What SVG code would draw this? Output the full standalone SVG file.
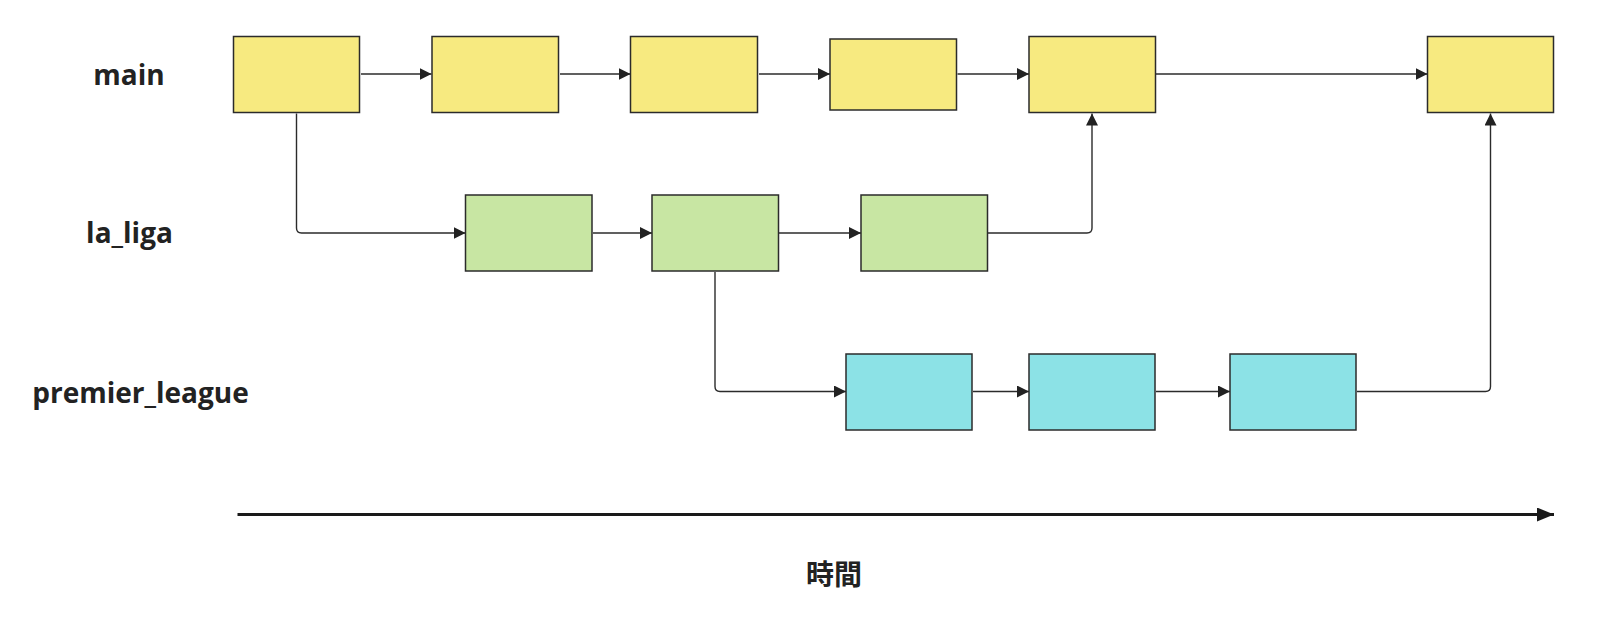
<svg xmlns="http://www.w3.org/2000/svg" width="1612" height="640" viewBox="0 0 1612 640">
<style>
.box{stroke:#2b2b2b;stroke-width:1.5}
.main{fill:#F7EA80}
.liga{fill:#C8E6A3}
.prem{fill:#8CE2E6}
.conn{fill:none;stroke:#2b2b2b;stroke-width:1.4}
.lbl{font-family:"Open Sans","Noto Sans","Liberation Sans",sans-serif;font-weight:700;font-size:28px;fill:#222;text-anchor:middle}
.time{font-family:"Noto Sans CJK JP","Noto Sans CJK SC",sans-serif;font-weight:700;font-size:28px;fill:#222;text-anchor:middle}
</style>
<defs>
<marker id="ah" markerUnits="userSpaceOnUse" markerWidth="12" markerHeight="12" refX="12" refY="6" orient="auto">
<path d="M0,0 L12,6 L0,12 z" fill="#222"/>
</marker>
<marker id="ahbig" markerUnits="userSpaceOnUse" markerWidth="18" markerHeight="14" refX="17" refY="7" orient="auto">
<path d="M0,0 L17,7 L0,14 z" fill="#1a1a1a"/>
</marker>
</defs>
<rect width="1612" height="640" fill="#ffffff"/>

<g id="labels">
<text id="label-main" class="lbl" x="129" y="84.5">main</text>
<text id="label-la_liga" class="lbl" x="129.5" y="243">la_liga</text>
<text id="label-premier_league" class="lbl" x="140.5" y="402.5">premier_league</text>
</g>

<g id="connectors">
<path class="conn" d="M361,74 H431.5" marker-end="url(#ah)"/>
<path class="conn" d="M560,74 H630.5" marker-end="url(#ah)"/>
<path class="conn" d="M759,74 H830" marker-end="url(#ah)"/>
<path class="conn" d="M957.5,74 H1029" marker-end="url(#ah)"/>
<path class="conn" d="M1156,74 H1427.5" marker-end="url(#ah)"/>
<path class="conn" d="M296.5,113.5 V228 Q296.5,233 301.5,233 H465.5" marker-end="url(#ah)"/>
<path class="conn" d="M593,233 H652" marker-end="url(#ah)"/>
<path class="conn" d="M779,233 H861" marker-end="url(#ah)"/>
<path class="conn" d="M988,233 H1087 Q1092,233 1092,228 V113.5" marker-end="url(#ah)"/>
<path class="conn" d="M715,272 V386.5 Q715,391.5 720,391.5 H846" marker-end="url(#ah)"/>
<path class="conn" d="M973,391.5 H1029" marker-end="url(#ah)"/>
<path class="conn" d="M1156,391.5 H1230" marker-end="url(#ah)"/>
<path class="conn" d="M1357,391.5 H1485.5 Q1490.5,391.5 1490.5,386.5 V113.5" marker-end="url(#ah)"/>
</g>

<g id="node-main-1"><rect class="box main" x="233.5" y="36.5" width="126" height="76"/></g>
<g id="node-main-2"><rect class="box main" x="432" y="36.5" width="126.5" height="76"/></g>
<g id="node-main-3"><rect class="box main" x="630.5" y="36.5" width="127" height="76"/></g>
<g id="node-main-4"><rect class="box main" x="830" y="39" width="126.5" height="71"/></g>
<g id="node-main-5"><rect class="box main" x="1029" y="36.5" width="126.5" height="76"/></g>
<g id="node-main-6"><rect class="box main" x="1427.5" y="36.5" width="126" height="76"/></g>

<g id="node-liga-1"><rect class="box liga" x="465.5" y="195" width="126.5" height="76"/></g>
<g id="node-liga-2"><rect class="box liga" x="652" y="195" width="126.5" height="76"/></g>
<g id="node-liga-3"><rect class="box liga" x="861" y="195" width="126.5" height="76"/></g>

<g id="node-prem-1"><rect class="box prem" x="846" y="354" width="126" height="76"/></g>
<g id="node-prem-2"><rect class="box prem" x="1029" y="354" width="126" height="76"/></g>
<g id="node-prem-3"><rect class="box prem" x="1230" y="354" width="126" height="76"/></g>

<g id="time-axis">
<path d="M237.5,514.5 H1554" stroke="#1a1a1a" stroke-width="3" fill="none" marker-end="url(#ahbig)"/>
<text class="time" x="834" y="585">時間</text>
</g>
</svg>
